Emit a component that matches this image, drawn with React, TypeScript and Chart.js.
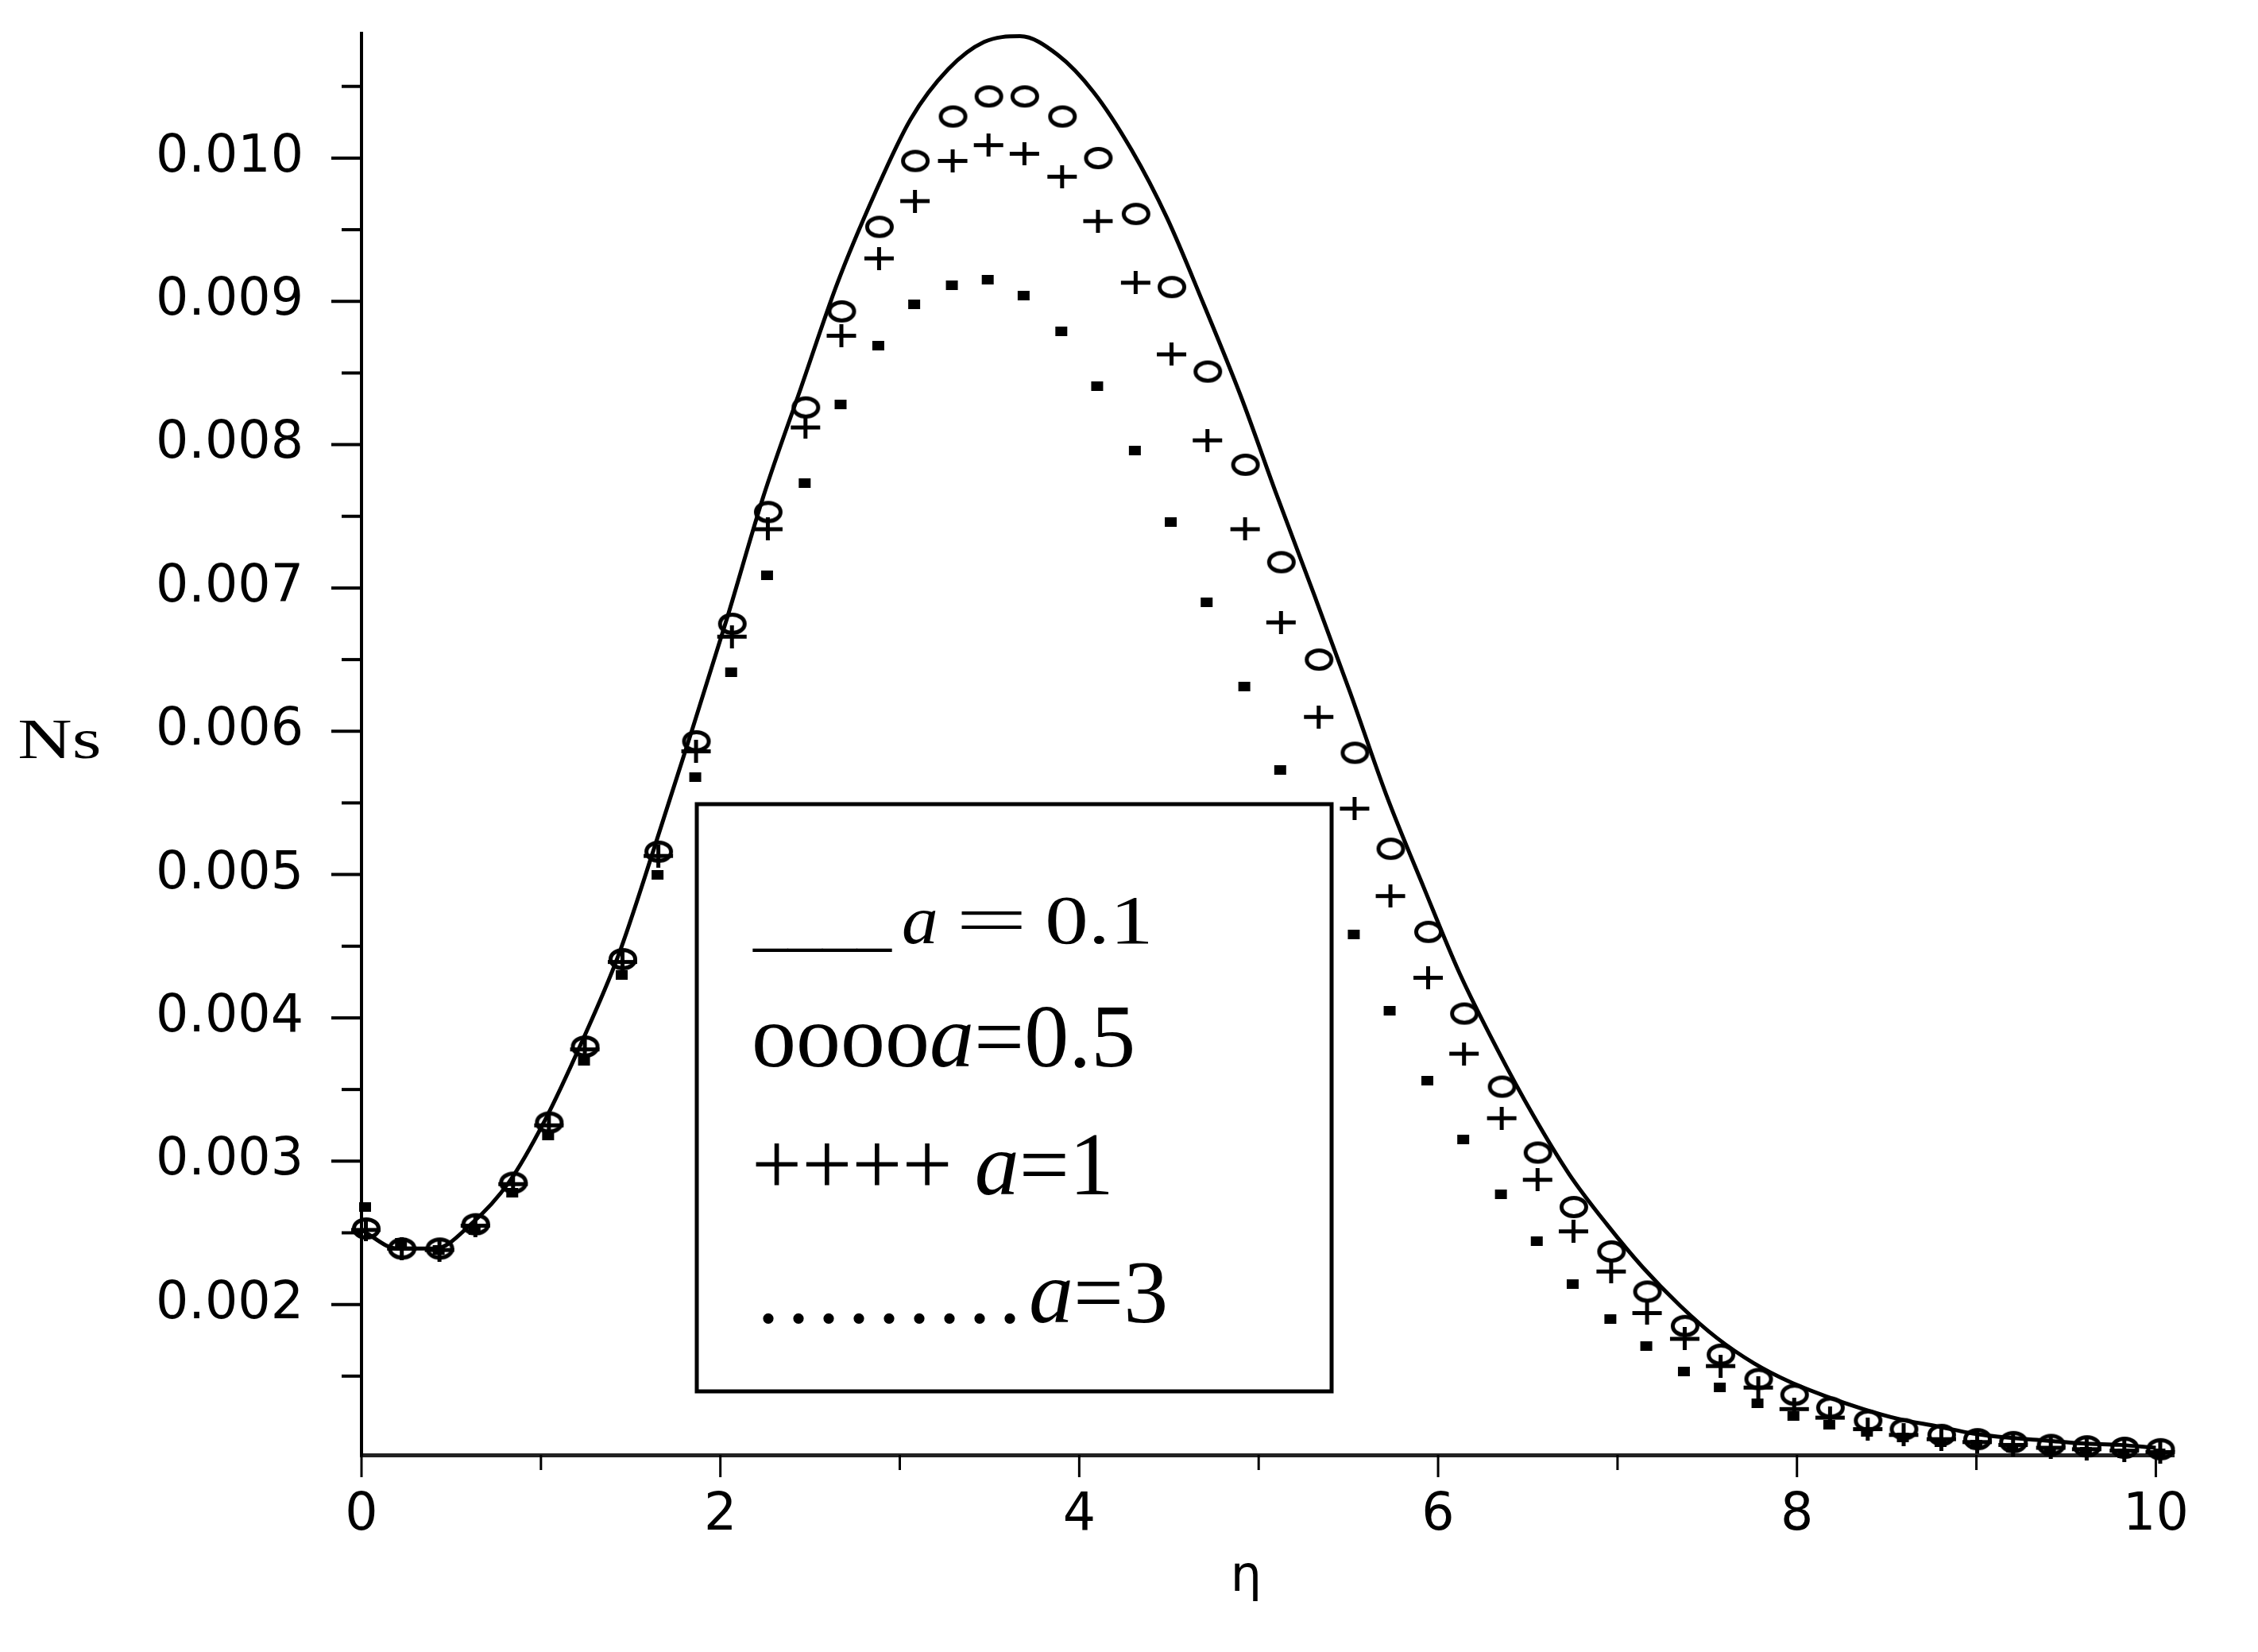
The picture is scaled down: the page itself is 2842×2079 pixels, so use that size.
import { useEffect, useRef } from 'react';
import { Chart, registerables } from 'chart.js';

Chart.register(...registerables);

// ---- data ----
const eta = [
  0, 0.20, 0.41, 0.61, 0.82, 1.02, 1.22, 1.43, 1.63, 1.84,
  2.04, 2.24, 2.45, 2.65, 2.86, 3.06, 3.27, 3.47, 3.67, 3.88,
  4.08, 4.29, 4.49, 4.69, 4.90, 5.10, 5.31, 5.51, 5.71, 5.92,
  6.12, 6.33, 6.53, 6.73, 6.94, 7.14, 7.35, 7.55, 7.76, 7.96,
  8.16, 8.37, 8.57, 8.78, 8.98, 9.18, 9.39, 9.59, 9.80, 10.00,
];

const nsA01 = [
  0.00252, 0.00239, 0.00239, 0.00256, 0.00285, 0.00328, 0.00381, 0.00443, 0.00518, 0.00600,
  0.00680, 0.00764, 0.00840, 0.00912, 0.00975, 0.01027, 0.01062, 0.01081, 0.01085, 0.01072,
  0.01046, 0.01006, 0.00958, 0.00899, 0.00834, 0.00765, 0.00695, 0.00627, 0.00556, 0.00491,
  0.00431, 0.00378, 0.00332, 0.00291, 0.00256, 0.00226, 0.00199, 0.00177, 0.00159, 0.00146,
  0.00136, 0.00127, 0.00120, 0.00115, 0.00110, 0.00107, 0.00105, 0.00103, 0.00102, 0.00100,
];

const nsA05 = [
  0.00253, 0.00239, 0.00239, 0.00256, 0.00285, 0.00327, 0.00380, 0.00441, 0.00516, 0.00593,
  0.00675, 0.00753, 0.00826, 0.00893, 0.00952, 0.00998, 0.01029, 0.01043, 0.01043, 0.01029,
  0.01000, 0.00961, 0.00910, 0.00851, 0.00786, 0.00718, 0.00650, 0.00585, 0.00518, 0.00460,
  0.00403, 0.00352, 0.00306, 0.00268, 0.00237, 0.00209, 0.00185, 0.00165, 0.00148, 0.00137,
  0.00128, 0.00119, 0.00113, 0.00109, 0.00106, 0.00104, 0.00102, 0.00101, 0.00100, 0.00099,
];

const nsA1 = [
  0.00252, 0.00239, 0.00238, 0.00255, 0.00284, 0.00325, 0.00378, 0.00439, 0.00513, 0.00586,
  0.00666, 0.00741, 0.00812, 0.00876, 0.00930, 0.00970, 0.00998, 0.01009, 0.01003, 0.00987,
  0.00956, 0.00913, 0.00863, 0.00803, 0.00741, 0.00676, 0.00610, 0.00546, 0.00485, 0.00428,
  0.00375, 0.00330, 0.00287, 0.00251, 0.00223, 0.00194, 0.00176, 0.00157, 0.00142, 0.00127,
  0.00121, 0.00113, 0.00109, 0.00106, 0.00104, 0.00102, 0.00100, 0.00099, 0.00098, 0.00097,
];

const nsA3 = [
  0.00268, 0.00243, 0.00238, 0.00252, 0.00278, 0.00318, 0.00370, 0.00430, 0.00500, 0.00568,
  0.00641, 0.00709, 0.00773, 0.00828, 0.00869, 0.00898, 0.00911, 0.00915, 0.00904, 0.00879,
  0.00841, 0.00796, 0.00746, 0.00690, 0.00631, 0.00573, 0.00513, 0.00458, 0.00405, 0.00356,
  0.00315, 0.00277, 0.00244, 0.00214, 0.00190, 0.00171, 0.00153, 0.00142, 0.00131, 0.00122,
  0.00116, 0.00111, 0.00107, 0.00104, 0.00102, 0.00100, 0.00098, 0.00097, 0.00096, 0.00096,
];

const yMajorTicks = [0.002, 0.003, 0.004, 0.005, 0.006, 0.007, 0.008, 0.009, 0.010];
const yTickLabels = ['0.002', '0.003', '0.004', '0.005', '0.006', '0.007', '0.008', '0.009', '0.010'];
const yMinorTicks = [0.0015, 0.0025, 0.0035, 0.0045, 0.0055, 0.0065, 0.0075, 0.0085, 0.0095, 0.0105];
const xMajorTicks = [0, 2, 4, 6, 8, 10];
const xTickLabels = ['0', '2', '4', '6', '8', '10'];
const xMinorTicks = [1, 3, 5, 7, 9];

const legendMarks = ['____', 'oooo', '++++ ', '.........'];
const legendValues = [' = 0.1', '=0.5', '=1', '=3'];
const xTitle = 'η';
const yTitle = 'Ns';

const SERIF = '"Liberation Serif", "Times New Roman", serif';
const SANS = '"DejaVu Sans", sans-serif';

function makeEllipse(): HTMLCanvasElement {
  const c = document.createElement('canvas');
  c.width = 52; c.height = 32;
  const g = c.getContext('2d')!;
  g.strokeStyle = '#000';
  g.lineWidth = 5;
  g.beginPath();
  g.ellipse(32, 16, 15.5, 11.5, 0, 0, Math.PI * 2);
  g.stroke();
  return c;
}

function makeCross(): HTMLCanvasElement {
  const c = document.createElement('canvas');
  c.width = 50; c.height = 29;
  const g = c.getContext('2d')!;
  g.fillStyle = '#000';
  g.fillRect(12, 12, 37, 5);
  g.fillRect(28, 0, 5, 29);
  return c;
}

function makeSquare(): HTMLCanvasElement {
  const c = document.createElement('canvas');
  c.width = 28; c.height = 12;
  const g = c.getContext('2d')!;
  g.fillStyle = '#000';
  g.fillRect(11, 0, 15, 12);
  return c;
}

function fitText(ctx: CanvasRenderingContext2D, text: string, x0: number, x1: number, baseline: number, font: string) {
  ctx.font = font;
  const m = ctx.measureText(text);
  const inkW = m.actualBoundingBoxLeft + m.actualBoundingBoxRight;
  const s = inkW > 0 ? (x1 - x0) / inkW : 1;
  ctx.save();
  ctx.translate(x0, baseline);
  ctx.scale(s, 1);
  ctx.fillText(text, m.actualBoundingBoxLeft, 0);
  ctx.restore();
}

const decorPlugin = {
  id: 'decor',
  afterDraw(chart: any) {
    const ctx: CanvasRenderingContext2D = chart.ctx;
    const xs = chart.scales.x;
    const ys = chart.scales.y;
    const area = chart.chartArea;
    ctx.save();
    ctx.strokeStyle = '#000';
    ctx.fillStyle = '#000';
    ctx.lineCap = 'butt';

    // y ticks
    ctx.lineWidth = 4;
    yMajorTicks.forEach((v) => {
      const y = ys.getPixelForValue(v);
      ctx.beginPath(); ctx.moveTo(area.left - 38, y); ctx.lineTo(area.left, y); ctx.stroke();
    });
    yMinorTicks.forEach((v) => {
      const y = ys.getPixelForValue(v);
      ctx.beginPath(); ctx.moveTo(area.left - 25, y); ctx.lineTo(area.left, y); ctx.stroke();
    });
    // x ticks
    ctx.lineWidth = 3;
    xMajorTicks.forEach((v) => {
      const x = xs.getPixelForValue(v);
      ctx.beginPath(); ctx.moveTo(x, area.bottom); ctx.lineTo(x, area.bottom + 28); ctx.stroke();
    });
    xMinorTicks.forEach((v) => {
      const x = xs.getPixelForValue(v);
      ctx.beginPath(); ctx.moveTo(x, area.bottom); ctx.lineTo(x, area.bottom + 19); ctx.stroke();
    });

    ctx.textAlign = 'left';
    ctx.textBaseline = 'alphabetic';

    // axis titles
    ctx.font = `62px ${SANS}`;
    const etaW = ctx.measureText(xTitle).width;
    ctx.fillText(xTitle, xs.getPixelForValue(4.93) - etaW / 2, 2002);
    fitText(ctx, yTitle, 25, 125, 954, `72px ${SERIF}`);

    // legend box
    const L = { left: 877, top: 1012, right: 1676, bottom: 1751 };
    ctx.fillStyle = '#fff';
    ctx.fillRect(L.left, L.top, L.right - L.left, L.bottom - L.top);
    ctx.strokeStyle = '#000';
    ctx.lineWidth = 5;
    ctx.strokeRect(L.left, L.top, L.right - L.left, L.bottom - L.top);
    ctx.fillStyle = '#000';

    // line 1 : ____a = 0.1
    ctx.font = `87px ${SERIF}`;
    ctx.fillText(legendMarks[0], 948, 1187);
    fitText(ctx, 'a', 1137, 1178, 1187, `italic 87px ${SERIF}`);
    const parts = legendValues[0].trim().split(' ');
    fitText(ctx, parts[0], 1210, 1286, 1187, `87px ${SERIF}`);
    fitText(ctx, parts[1], 1319, 1446, 1187, `87px ${SERIF}`);

    // lines 2..4
    const baselines = [1342, 1503, 1664];
    for (let k = 1; k < 4; k++) {
      let x = k === 3 ? 953 : 946;
      const b = baselines[k - 1];
      ctx.font = `112px ${SERIF}`;
      if (k === 3) (ctx as any).letterSpacing = '10px';
      ctx.fillText(legendMarks[k], x, b);
      x += ctx.measureText(legendMarks[k]).width;
      (ctx as any).letterSpacing = '0px';
      ctx.font = `italic 112px ${SERIF}`;
      ctx.fillText('a', x, b);
      x += ctx.measureText('a').width;
      ctx.font = `112px ${SERIF}`;
      ctx.fillText(legendValues[k], x, b);
    }
    ctx.restore();
  },
};

export default function App() {
  const ref = useRef<HTMLCanvasElement | null>(null);

  useEffect(() => {
    document.body.style.margin = '0';
    const canvas = ref.current;
    if (!canvas) return;
    const ellipse = makeEllipse();
    const cross = makeCross();
    const square = makeSquare();
    const pts = (arr: number[]) => eta.map((x, i) => ({ x, y: arr[i] }));

    const chart = new Chart(canvas, {
      type: 'line',
      data: {
        datasets: [
          {
            label: 'a = 0.1',
            data: pts(nsA01),
            borderColor: '#000',
            borderWidth: 5,
            pointRadius: 0,
            cubicInterpolationMode: 'monotone',
            fill: false,
            clip: false as any,
          },
          {
            label: 'a=0.5',
            data: pts(nsA05),
            showLine: false,
            pointStyle: ellipse as any,
            pointRadius: 6,
            clip: false as any,
          },
          {
            label: 'a=1',
            data: pts(nsA1),
            showLine: false,
            pointStyle: cross as any,
            pointRadius: 6,
            clip: false as any,
          },
          {
            label: 'a=3',
            data: pts(nsA3),
            showLine: false,
            pointStyle: square as any,
            pointRadius: 6,
            clip: false as any,
          },
        ],
      },
      options: {
        responsive: false,
        animation: false,
        devicePixelRatio: 1,
        events: [],
        layout: { padding: { left: 0, top: 42, right: 106, bottom: 0 } },
        plugins: {
          legend: { display: false },
          tooltip: { enabled: false },
          title: { display: false },
        },
        scales: {
          x: {
            type: 'linear',
            min: 0,
            max: 10.1,
            grid: { display: false, drawTicks: true, tickLength: 38 },
            border: { display: true, color: '#222', width: 5 },
            afterBuildTicks: (s: any) => { s.ticks = xMajorTicks.map((v) => ({ value: v })); },
            afterFit: (s: any) => { s.height = 248; },
            ticks: {
              autoSkip: false,
              maxRotation: 0,
              padding: 0,
              color: '#000',
              font: { family: SANS, size: 65 },
              callback: (_v: any, i: number) => xTickLabels[i],
            },
          },
          y: {
            type: 'linear',
            min: 0.00095,
            max: 0.01087,
            grid: { display: false, drawTicks: true, tickLength: 73 },
            border: { display: true, color: '#000', width: 4 },
            afterBuildTicks: (s: any) => { s.ticks = yMajorTicks.map((v) => ({ value: v })); },
            afterFit: (s: any) => { s.width = 455; },
            ticks: {
              autoSkip: false,
              padding: 0,
              color: '#000',
              font: { family: SANS, size: 65 },
              callback: (_v: any, i: number) => yTickLabels[i],
            },
          },
        },
      },
      plugins: [decorPlugin],
    });
    return () => chart.destroy();
  }, []);

  return (
    <div style={{ position: 'absolute', left: 0, top: 0, width: 2842, height: 2079, background: '#fff' }}>
      <canvas ref={ref} width={2842} height={2079} style={{ display: 'block', width: 2842, height: 2079 }} />
    </div>
  );
}
